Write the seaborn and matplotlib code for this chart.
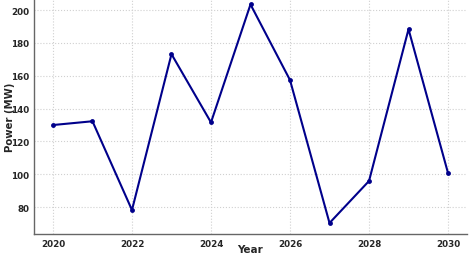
import matplotlib
matplotlib.use("Agg")
import matplotlib.pyplot as plt
import seaborn as sns
import pandas as pd

years = [2020, 2021, 2022, 2023, 2024, 2025, 2026, 2027, 2028, 2029, 2030]
power = [130.0, 132.3, 78.2, 173.2, 131.6, 203.5, 157.4, 70.3, 95.9, 188.4, 100.7]

df = pd.DataFrame({"Year": years, "Power (MW)": power})

sns.set_style("whitegrid")
plt.rcParams['font.family'] = ['DejaVu Sans']

fig = plt.figure(figsize=(4.75, 2.55), dpi=100)
ax = fig.add_axes([34/475, 20/255, (467-34)/475, 235/255])
sns.lineplot(data=df, x="Year", y="Power (MW)", ax=ax, color="#00008B",
             marker="o", markersize=3.5, linewidth=1.5, markeredgewidth=0)

ax.set_xlim(2019.52, 2030.48)
ax.set_ylim(63.6, 206.8)
ax.set_xticks([2020, 2022, 2024, 2026, 2028, 2030])
ax.set_yticks([80, 100, 120, 140, 160, 180, 200])
ax.grid(True, linestyle=":", color="#d0d0d0", linewidth=0.8)
for s in ["top", "right"]:
    ax.spines[s].set_visible(False)
for s in ["left", "bottom"]:
    ax.spines[s].set_color("#666666")
    ax.spines[s].set_linewidth(1.0)
ax.tick_params(length=0, labelsize=6.3, pad=3.5)
for lab in ax.get_xticklabels() + ax.get_yticklabels():
    lab.set_fontweight("bold")
ax.set_xlabel("Year", fontsize=7.5, fontweight="bold", va="center")
ax.set_ylabel("Power (MW)", fontsize=7.3, fontweight="bold", va="center")
ax.xaxis.set_label_coords(0.5, (235 - 250) / 235)
ax.yaxis.set_label_coords((10 - 34) / 433, (235 - 117) / 235)

fig.savefig("out.png", dpi=100)
